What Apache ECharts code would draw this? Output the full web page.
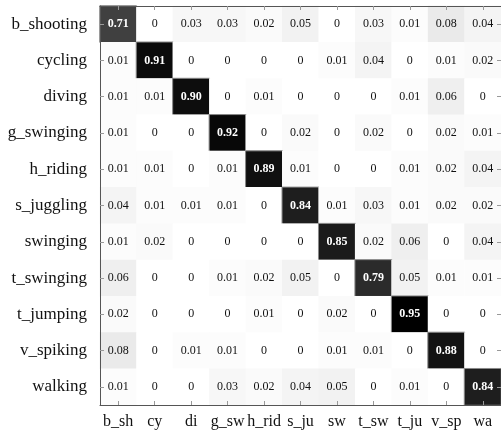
<!DOCTYPE html>
<html>
<head>
<meta charset="utf-8">
<script src="https://cdn.jsdelivr.net/npm/echarts@6/dist/echarts.min.js"></script>
<style>
  html, body { margin: 0; padding: 0; background: #fff; }
  #main { width: 501px; height: 436px; }
</style>
</head>
<body>
<div id="main"></div>
<script>
// row labels (true class) and column labels (predicted class)
const rowLabels = ["b_shooting", "cycling", "diving", "g_swinging", "h_riding", "s_juggling",
  "swinging", "t_swinging", "t_jumping", "v_spiking", "walking"];
const colLabels = ["b_sh", "cy", "di", "g_sw", "h_rid", "s_ju", "sw", "t_sw", "t_ju", "v_sp", "wa"];

const b_shooting = [0.71, 0, 0.03, 0.03, 0.02, 0.05, 0, 0.03, 0.01, 0.08, 0.04];
const cycling    = [0.01, 0.91, 0, 0, 0, 0, 0.01, 0.04, 0, 0.01, 0.02];
const diving     = [0.01, 0.01, 0.90, 0, 0.01, 0, 0, 0, 0.01, 0.06, 0];
const g_swinging = [0.01, 0, 0, 0.92, 0, 0.02, 0, 0.02, 0, 0.02, 0.01];
const h_riding   = [0.01, 0.01, 0, 0.01, 0.89, 0.01, 0, 0, 0.01, 0.02, 0.04];
const s_juggling = [0.04, 0.01, 0.01, 0.01, 0, 0.84, 0.01, 0.03, 0.01, 0.02, 0.02];
const swinging   = [0.01, 0.02, 0, 0, 0, 0, 0.85, 0.02, 0.06, 0, 0.04];
const t_swinging = [0.06, 0, 0, 0.01, 0.02, 0.05, 0, 0.79, 0.05, 0.01, 0.01];
const t_jumping  = [0.02, 0, 0, 0, 0.01, 0, 0.02, 0, 0.95, 0, 0];
const v_spiking  = [0.08, 0, 0.01, 0.01, 0, 0, 0.01, 0.01, 0, 0.88, 0];
const walking    = [0.01, 0, 0, 0.03, 0.02, 0.04, 0.05, 0, 0.01, 0, 0.84];

const rows = [b_shooting, cycling, diving, g_swinging, h_riding, s_juggling,
  swinging, t_swinging, t_jumping, v_spiking, walking];

const serif = "Liberation Serif";

let data = [];
rows.forEach(function (row, r) {
  row.forEach(function (v, c) {
    let item = { value: [c, r, v] };
    if (r === c) {
      item.label = { color: "#fff", fontWeight: "bold" };
      item.itemStyle = { borderColor: "#888", borderWidth: 1 };
    }
    data.push(item);
  });
});

const chart = echarts.init(document.getElementById("main"));

const tickStyle = { show: true, inside: true, length: 4, alignWithLabel: true, interval: 0,
  lineStyle: { color: "#999" } };
const lineStyle = { show: true, lineStyle: { color: "#555", width: 1 } };

let option = {
  animation: false,
  grid: { left: 100, right: 0, top: 6, bottom: 31 },
  xAxis: [
    {
      type: "category",
      data: colLabels,
      position: "bottom",
      z: 10,
      axisLine: lineStyle,
      axisTick: tickStyle,
      axisLabel: { interval: 0, margin: 9, fontFamily: serif, fontSize: 16, color: "#111" },
      splitArea: { show: false },
    },
    {
      type: "category",
      data: colLabels,
      position: "top",
      z: 10,
      axisLine: lineStyle,
      axisTick: tickStyle,
      axisLabel: { show: false },
    },
  ],
  yAxis: [
    {
      type: "category",
      data: rowLabels,
      inverse: true,
      position: "left",
      z: 10,
      axisLine: lineStyle,
      axisTick: tickStyle,
      axisLabel: { interval: 0, margin: 13, fontFamily: serif, fontSize: 17, color: "#111" },
      splitArea: { show: false },
    },
    {
      type: "category",
      data: rowLabels,
      inverse: true,
      position: "right",
      z: 10,
      axisLine: { show: false },
      axisTick: tickStyle,
      axisLabel: { show: false },
    },
  ],
  visualMap: {
    show: false,
    min: 0,
    max: 0.95,
    dimension: 2,
    inRange: { color: ["#ffffff", "#000000"] },
  },
  series: [
    {
      type: "heatmap",
      data: data,
      label: {
        show: true,
        fontFamily: serif,
        fontSize: 12,
        color: "#111",
        formatter: function (p) {
          const v = p.value[2];
          return v === 0 ? "0" : v.toFixed(2);
        },
      },
      emphasis: { disabled: true },
    },
  ],
};

option && chart.setOption(option);
</script>
</body>
</html>
